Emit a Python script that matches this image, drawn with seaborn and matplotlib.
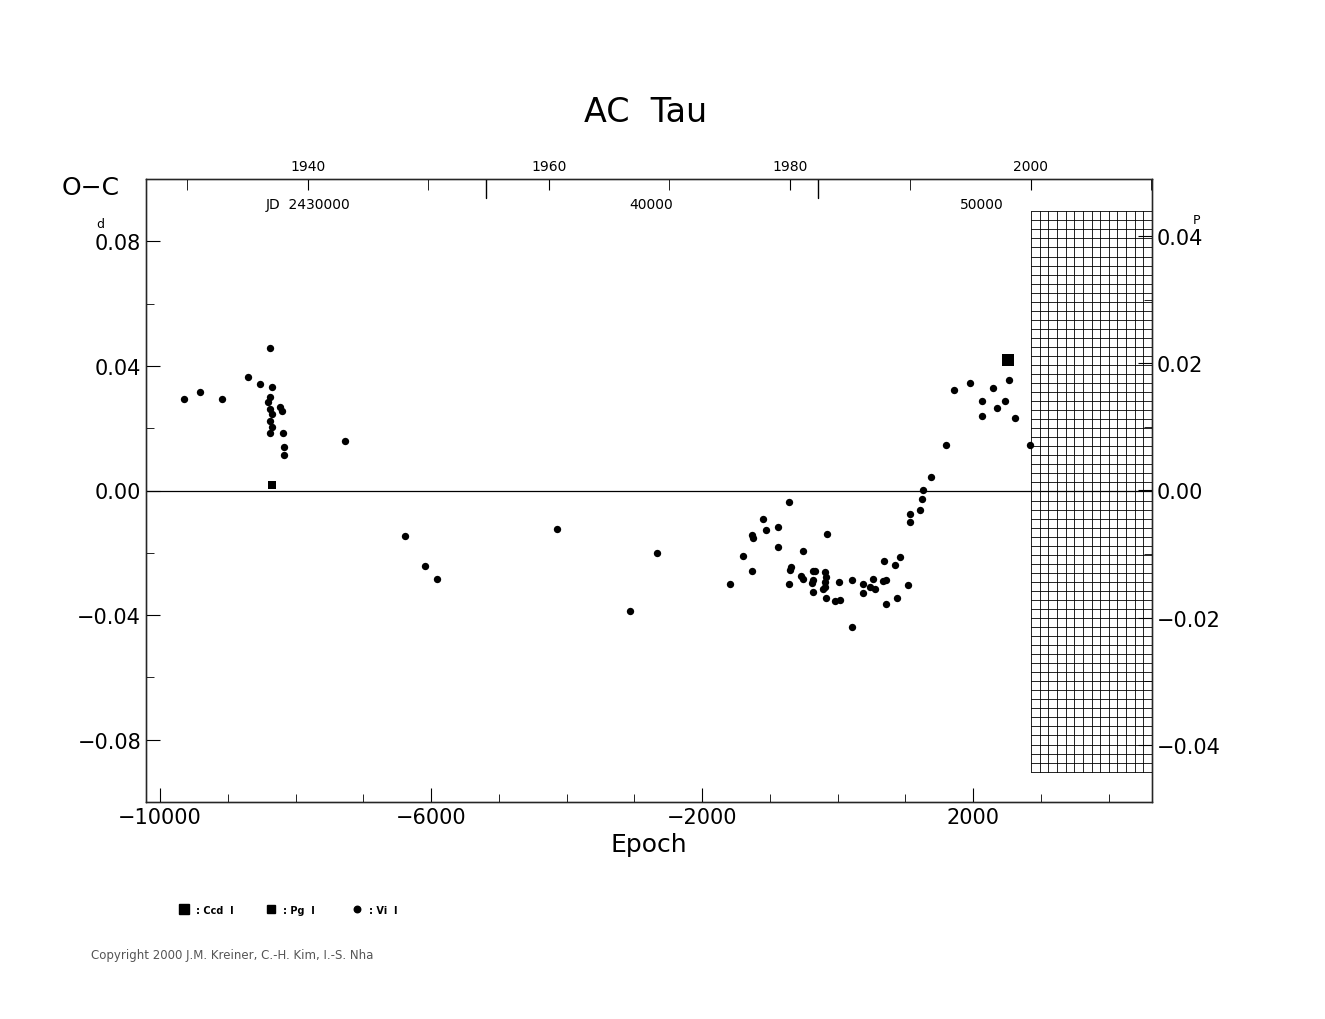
import numpy as np
import pandas as pd
import matplotlib
matplotlib.use("Agg")
import matplotlib.pyplot as plt
import seaborn as sns

def E(x): return -10000 + (x - 160) / 0.06775
def O(y): return 0.08 - (y - 242) / 3119

vis_px = [(184,400),(200,393),(222,400),(248,378),(260,385),(270,349),(270,398),(268,403),(272,388),
 (270,410),(272,415),(270,422),(272,428),(270,434),(280,408),(282,412),(283,434),(284,448),(284,456),
 (345,442),(405,537),(425,567),(437,580),(557,530),(630,612),(657,554),
 (730,585),(743,557),(752,572),(752,536),(753,539),(763,520),(766,531),(778,528),(778,548),(789,503),
 (791,568),(790,571),(789,585),(803,552),(801,577),(803,580),(813,572),(815,572),(812,584),(813,581),
 (813,593),(825,573),(826,578),(825,583),(823,590),(825,588),(827,535),(826,599),(835,602),(840,601),
 (839,583),(852,581),(852,628),(863,585),(863,594),(870,588),(873,580),(875,590),(883,582),(886,581),
 (884,562),(886,605),(895,566),(900,558),(897,599),(908,586),(910,515),(910,523),(920,511),(922,500),
 (923,491),(931,478),(946,446),(954,391),(970,384),(982,402),(982,417),(993,389),(997,409),(1005,402),
 (1009,381),(1015,419),(1030,446)]
vis_epoch = [round(E(x)) for x, y in vis_px]
vis_oc = [round(O(y), 4) for x, y in vis_px]
pg_epoch = [round(E(272))]; pg_oc = [round(O(486), 4)]
ccd_epoch = [round(E(1008))]; ccd_oc = [round(O(361), 4)]

df = pd.DataFrame({"epoch": vis_epoch + pg_epoch + ccd_epoch,
                   "oc": vis_oc + pg_oc + ccd_oc,
                   "kind": ["vis"]*len(vis_epoch) + ["pg"] + ["ccd"]})

sns.set_style("white")
plt.rcParams['font.family'] = ['DejaVu Sans']
plt.rcParams['text.color'] = 'black'
plt.rcParams['xtick.color'] = 'black'
plt.rcParams['ytick.color'] = 'black'
plt.rcParams['axes.labelcolor'] = 'black'
fig = plt.figure(figsize=(13.25, 10.2), dpi=100)
ax = fig.add_axes([146/1325, 1-803/1020, (1152-146)/1325, (803-180)/1020])
xmin, xmax = E(146), E(1152)
ax.set_xlim(xmin, xmax); ax.set_ylim(-0.1, 0.1)
for k, m, s in [("vis", "o", 28), ("pg", "s", 30), ("ccd", "s", 80)]:
    sns.scatterplot(data=df[df.kind == k], x="epoch", y="oc", marker=m, s=s, color="black",
                    edgecolor="black", linewidth=0, ax=ax, legend=False)
ax.axhline(0, color="black", lw=0.9)
for sp in ax.spines.values(): sp.set_linewidth(1.0); sp.set_color("black")
ax.set_xticks([-10000, -6000, -2000, 2000])
ax.set_xticklabels(["\u221210000", "\u22126000", "\u22122000", "2000"], fontsize=15)
ax.set_xticks(np.arange(-10000, 4001, 1000), minor=True)
ax.set_yticks([-0.08, -0.04, 0, 0.04, 0.08])
ax.set_yticklabels(["\u22120.08", "\u22120.04", "0.00", "0.04", "0.08"], fontsize=15)
ax.set_yticks(np.arange(-0.1, 0.101, 0.02), minor=True)
ax.tick_params(which="major", length=10, direction="in", top=False, right=False)
ax.tick_params(which="minor", length=6, direction="in", top=False, right=False)
ax.set_xlabel("Epoch", fontsize=18); ax.set_ylabel("")
fig.text(62/1325, 1-188/1020, "O\u2212C", fontsize=18, va="center")
fig.text(96/1325, 1-224/1020, "d", fontsize=9, va="center")

# hatched grid region
gx0, gx1 = E(1031), E(1152)
gy0, gy1 = O(773), O(212)
for gx in np.linspace(gx0, gx1, 15):
    ax.plot([gx, gx], [gy0, gy1], color="black", lw=0.6)
for gy in np.linspace(gy0, gy1, 63):
    ax.plot([gx0, gx1], [gy, gy], color="black", lw=0.6)

# right axis in periods
P = 2.0434
axr = ax.twinx(); axr.set_ylim(-0.1 / P, 0.1 / P)
axr.set_yticks([-0.04, -0.02, 0, 0.02, 0.04])
axr.set_yticklabels(["\u22120.04", "\u22120.02", "0.00", "0.02", "0.04"], fontsize=15)
axr.set_yticks(np.arange(-0.04, 0.041, 0.01), minor=True)
axr.tick_params(which="major", length=10, direction="in")
axr.tick_params(which="minor", length=6, direction="in")
fig.text(1193/1325, 1-221/1020, "P", fontsize=9, va="center")

# top axis (years)
axt = ax.twiny(); axt.set_xlim(xmin, xmax)
yr = {1940: 308, 1960: 549, 1980: 790, 2000: 1031}
axt.set_xticks([E(v) for v in yr.values()]); axt.set_xticklabels([str(k) for k in yr], fontsize=10)
axt.set_xticks([E(x) for x in [187, 428, 669, 910, 1151]], minor=True)
axt.tick_params(which="major", length=8, direction="in", pad=4)
axt.tick_params(which="minor", length=8, direction="in")
for lbl, x in [("JD  2430000", 308), ("40000", 651), ("50000", 982)]:
    ax.text(E(x), O(205), lbl, fontsize=10, ha="center", va="center")
for x in [486, 818]:
    ax.plot([E(x), E(x)], [0.1, 0.1 - 0.006], color="black", lw=1)

fig.text(646/1325, 1-112/1020, "AC  Tau", fontsize=24, ha="center", va="center")
# legend
for x, m, s, lab in [(184, "s", 60, ": Ccd  I"), (271, "s", 28, ": Pg  I"), (357, "o", 22, ": Vi  I")]:
    fig.add_artist(plt.Line2D([x/1325], [1-910/1020], marker=m, markersize=np.sqrt(s), color="black", ls=""))
    fig.text((x+12)/1325, 1-911/1020, lab, fontsize=7, va="center", fontweight="bold")
fig.text(91/1325, 1-956/1020, "Copyright 2000 J.M. Kreiner, C.-H. Kim, I.-S. Nha", fontsize=8.5, color="#555555", va="center")
fig.savefig("out.png", dpi=100)
